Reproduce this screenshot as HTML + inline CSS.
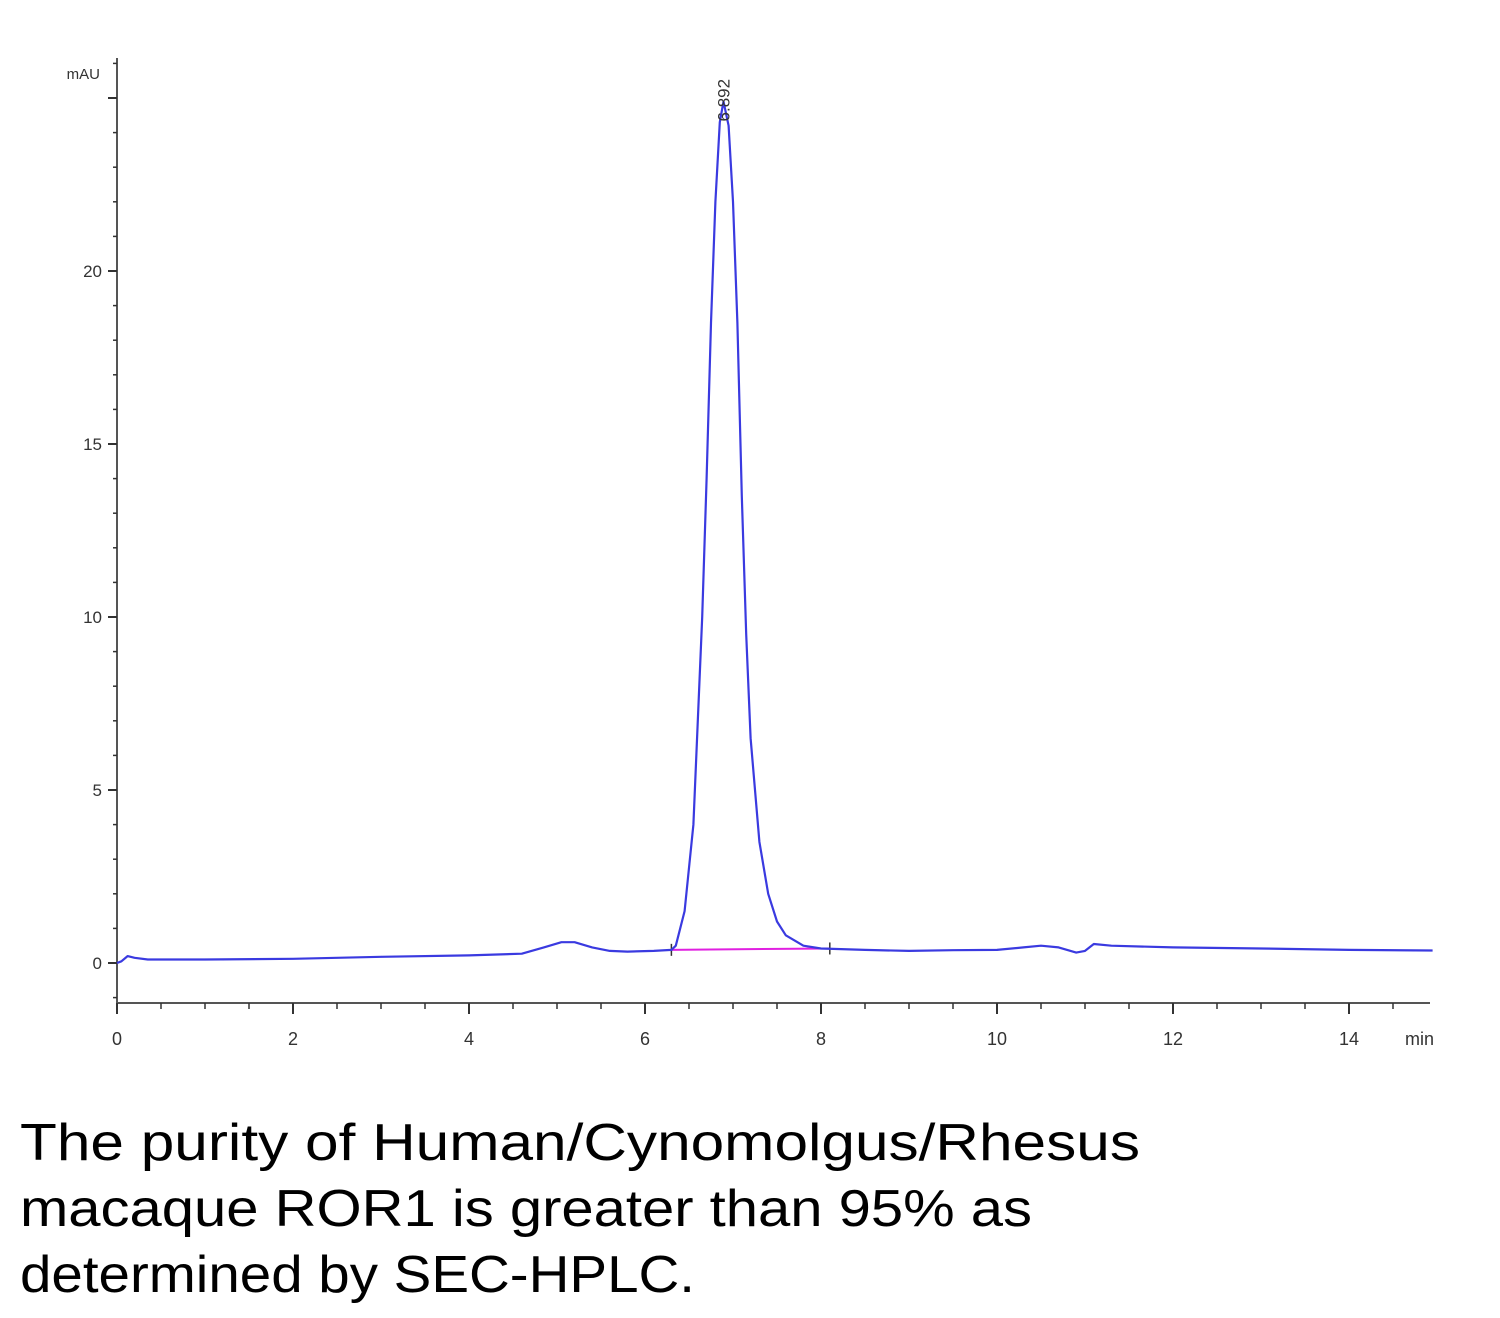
<!DOCTYPE html>
<html><head><meta charset="utf-8"><style>
html,body{margin:0;padding:0;background:#fff;width:1500px;height:1318px;overflow:hidden}
svg{display:block}
</style></head><body>
<svg id="chart" width="1500" height="1318" xmlns="http://www.w3.org/2000/svg" font-family="Liberation Sans, sans-serif">
<g id="axes"></g>
<g id="plot"></g>
<text x="100" y="79" font-size="15" text-anchor="end" fill="#333" transform="scale(1,1)">mAU</text>
<text x="1405" y="1045" font-size="18" fill="#333">min</text>
<g font-size="52" fill="#000">
<text x="20" y="1160" textLength="1120" lengthAdjust="spacingAndGlyphs">The purity of Human/Cynomolgus/Rhesus</text>
<text x="20" y="1226" textLength="1012" lengthAdjust="spacingAndGlyphs">macaque ROR1 is greater than 95% as</text>
<text x="20" y="1292" textLength="675" lengthAdjust="spacingAndGlyphs">determined by SEC-HPLC.</text>
</g>
</svg>
<script>
const xTicks=[0,2,4,6,8,10,12,14];
const yTicks=[0,5,10,15,20];
const traceT=[0,0.05,0.12,0.2,0.35,1,2,3,4,4.6,4.85,5.05,5.2,5.4,5.6,5.8,6.1,6.3,6.35,6.45,6.55,6.6,6.65,6.7,6.75,6.8,6.85,6.892,6.95,7.0,7.05,7.1,7.15,7.2,7.3,7.4,7.5,7.6,7.8,8.0,8.5,9,9.5,10,10.3,10.5,10.7,10.9,11.0,11.1,11.3,12,13,14,14.95];
const traceV=[0,0.05,0.2,0.15,0.1,0.1,0.12,0.18,0.22,0.27,0.45,0.6,0.6,0.45,0.35,0.33,0.35,0.38,0.5,1.5,4,7,10,14,18.5,22,24.3,24.9,24.2,22,18.5,13.5,9.5,6.5,3.5,2.0,1.2,0.8,0.5,0.42,0.38,0.35,0.37,0.38,0.45,0.5,0.45,0.3,0.35,0.55,0.5,0.45,0.42,0.38,0.36];
const peakLabel="6.892", peakT=6.892, peakV=24.9;
const baseStart=[6.3,0.38], baseEnd=[8.1,0.42];
const NS="http://www.w3.org/2000/svg";
const X=t=>117+t*88, Y=v=>963-v*34.6;
function mk(tag,attrs,parent){const e=document.createElementNS(NS,tag);for(const k in attrs)e.setAttribute(k,attrs[k]);parent.appendChild(e);return e;}
const axes=document.getElementById('axes'), plot=document.getElementById('plot');
let a=mk('line',{x1:117,y1:58,x2:117,y2:1003,stroke:'#555','stroke-width':2},axes);


a=mk('line',{x1:117,y1:1003,x2:1430,y2:1003,stroke:'#555','stroke-width':2},axes);


for(let v=-1;v<=26;v++){const maj=v%5===0;
 const t=mk('line',{x1:maj?108:113,y1:Y(v),x2:117,y2:Y(v),stroke:'#333','stroke-width':maj?2:1.5},axes);
 
 }
yTicks.forEach(v=>{const t=mk('text',{x:102,y:Y(v)+6,'font-size':17,'text-anchor':'end',fill:'#333'},axes);t.textContent=v;
 
 });
for(let i=0;i<=29;i++){const t0=i*0.5,maj=i%4===0;
 const t=mk('line',{x1:X(t0),y1:1003,x2:X(t0),y2:maj?1014:1009,stroke:'#333','stroke-width':maj?2:1.5},axes);
 
 }
xTicks.forEach(v=>{const t=mk('text',{x:X(v),y:1045,'font-size':18,'text-anchor':'middle',fill:'#333'},axes);t.textContent=v;
 
 });
const bl=mk('line',{x1:X(baseStart[0]),y1:Y(baseStart[1]),x2:X(baseEnd[0]),y2:Y(baseEnd[1]),stroke:'#e020e0','stroke-width':2},plot);


[baseStart,baseEnd].forEach(p=>{const m=mk('line',{x1:X(p[0]),y1:Y(p[1])-6,x2:X(p[0]),y2:Y(p[1])+6,stroke:'#333','stroke-width':1.5},plot);
 
 });
const d=traceT.map((t,i)=>(i?'L':'M')+X(t).toFixed(1)+','+Y(traceV[i]).toFixed(1)).join('');
const tr=mk('path',{d:d,fill:'none',stroke:'#3a3ae0','stroke-width':2.2,'stroke-linejoin':'round'},plot);


const pl=mk('text',{x:0,y:0,'font-size':17,fill:'#333',transform:`translate(${X(peakT)+6},${Y(peakV)+20}) rotate(-90)`},plot);
pl.textContent=peakLabel;


</script>
</body></html>
